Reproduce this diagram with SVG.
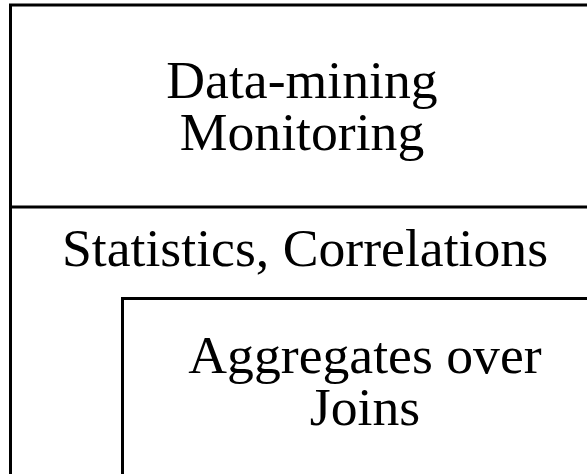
<svg xmlns="http://www.w3.org/2000/svg" width="587" height="474" viewBox="0 0 587 474">
  <style>
    .frame { fill: none; stroke: #000; stroke-width: 3; }
    .label { font-family: "Liberation Serif", "Times New Roman", serif; font-size: 53.7px; fill: #000; text-anchor: middle; }
  </style>
  <rect x="0" y="0" width="587" height="474" fill="#fff"/>
  <!-- outer layer: data-mining / monitoring -->
  <g id="monitoring">
    <path class="frame" d="M610,5 H10.5 V480"/>
    <text class="label" x="302" y="98">Data-mining</text>
    <text class="label" x="302" y="150">Monitoring</text>
  </g>
  <!-- middle layer: statistics -->
  <g id="statistics">
    <path class="frame" d="M10.5,207 H610"/>
    <text class="label" x="305" y="266">Statistics, Correlations</text>
  </g>
  <!-- inner layer: aggregates over joins -->
  <g id="aggregates">
    <path class="frame" d="M610,298.5 H122.5 V480"/>
    <text class="label" x="365" y="373">Aggregates over</text>
    <text class="label" x="365" y="425">Joins</text>
  </g>
</svg>
